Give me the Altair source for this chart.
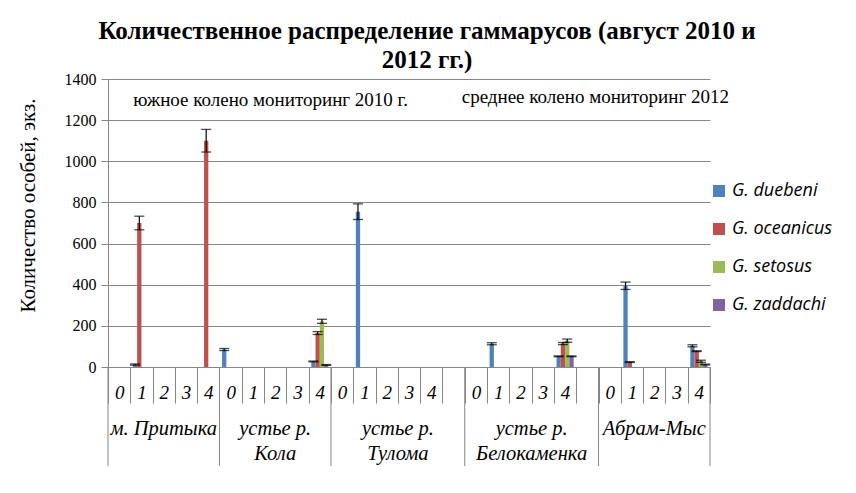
import altair as alt
import pandas as pd

# ---------------- data ----------------
species = ["G. duebeni", "G. oceanicus", "G. setosus", "G. zaddachi"]
colors = ["#4F81BD", "#C0504D", "#9BBB59", "#8064A2"]

sites = ["м. Притыка", "устье р.\nКола", "устье р.\nТулома", "устье р.\nБелокаменка", "Абрам-Мыс"]
sub_labels = [
    ["0", "1", "2", "3", "4"],
    ["0", "1", "2", "3", "4"],
    ["0", "1", "2", "3", "4", ""],
    ["0", "1", "2", "3", "4", ""],
    ["0", "1", "2", "3", "4"],
]

duebeni   = [[0, 12, 0, 0, 0],    [85, 0, 0, 0, 27],  [0, 755, 0, 0, 0, 0], [0, 113, 0, 0, 52, 0],  [0, 395, 0, 0, 103]]
oceanicus = [[0, 700, 0, 0, 1100], [0, 0, 0, 0, 165], [0, 0, 0, 0, 0, 0],   [0, 0, 0, 0, 114, 0],   [0, 24, 0, 0, 77]]
setosus   = [[0, 0, 0, 0, 0],     [0, 0, 0, 0, 222],  [0, 0, 0, 0, 0, 0],   [0, 0, 0, 0, 128, 0],   [0, 0, 0, 0, 28]]
zaddachi  = [[0, 0, 0, 0, 0],     [0, 0, 0, 0, 10],   [0, 0, 0, 0, 0, 0],   [0, 0, 0, 0, 52, 0],    [0, 0, 0, 0, 12]]

duebeni_err   = [[0, 3, 0, 0, 0],   [5, 0, 0, 0, 2],  [0, 38, 0, 0, 0, 0], [0, 5, 0, 0, 2, 0], [0, 18, 0, 0, 5]]
oceanicus_err = [[0, 33, 0, 0, 55], [0, 0, 0, 0, 7],  [0, 0, 0, 0, 0, 0],  [0, 0, 0, 0, 5, 0], [0, 2, 0, 0, 2]]
setosus_err   = [[0, 0, 0, 0, 0],   [0, 0, 0, 0, 10], [0, 0, 0, 0, 0, 0],  [0, 0, 0, 0, 8, 0], [0, 0, 0, 0, 5]]
zaddachi_err  = [[0, 0, 0, 0, 0],   [0, 0, 0, 0, 2],  [0, 0, 0, 0, 0, 0],  [0, 0, 0, 0, 2, 0], [0, 0, 0, 0, 2]]

y_ticks = [0, 200, 400, 600, 800, 1000, 1200, 1400]
title_lines = ["Количественное  распределение гаммарусов (август 2010 и", "2012 гг.)"]
y_title = "Количество особей, экз."
note_south = "южное колено мониторинг 2010 г."
note_middle = "среднее колено мониторинг 2012"

# ---------------- tables ----------------
slot_keys = [f"{i}:{lab}" for i, labs in enumerate(sub_labels) for lab in labs]

vals = [duebeni, oceanicus, setosus, zaddachi]
errs = [duebeni_err, oceanicus_err, setosus_err, zaddachi_err]
rows = []
for s, (v, e) in enumerate(zip(vals, errs)):
    for i, labs in enumerate(sub_labels):
        for j, lab in enumerate(labs):
            rows.append({"slot": f"{i}:{lab}", "species": species[s],
                         "value": v[i][j], "lo": v[i][j] - e[i][j], "hi": v[i][j] + e[i][j]})
df = pd.DataFrame(rows)
err_df = df[df["value"] > 0]

bound_left = pd.DataFrame({"slot": [f"{i}:{labs[0]}" for i, labs in enumerate(sub_labels)]})
bound_right = pd.DataFrame({"slot": [slot_keys[-1]]})

odd_rows, even_rows = [], []
for i, labs in enumerate(sub_labels):
    n = len(labs)
    if n % 2:
        odd_rows.append({"slot": f"{i}:{labs[(n - 1) // 2]}", "site": sites[i]})
    else:
        even_rows.append({"slot": f"{i}:{labs[n // 2 - 1]}", "site": sites[i]})
odd_df = pd.DataFrame(odd_rows)
even_df = pd.DataFrame(even_rows)

notes_a_df = pd.DataFrame([{"slot": f"0:{sub_labels[0][1]}", "y": 1300, "text": note_south}])
notes_b_df = pd.DataFrame([{"slot": f"3:{sub_labels[3][0]}", "y": 1312, "text": note_middle}])

# ---------------- chart ----------------
W, H = 602, 288
GRAY = "#868686"
SERIF = "Liberation Serif"
SANS = "Open Sans"

x_scale = alt.Scale(domain=slot_keys, paddingInner=0, paddingOuter=0)
off_scale = alt.Scale(domain=species, paddingInner=0, paddingOuter=0.6)
y_scale = alt.Scale(domain=[0, 1400], nice=False)

x_axis = alt.Axis(
    title=None, labelExpr="split(datum.value, ':')[1]", labelAngle=0,
    labelFont=SERIF, labelFontSize=19, labelFontStyle="italic", labelColor="black",
    labelBaseline="alphabetic", labelPadding=-5,
    tickBand="extent", tickSize=36, tickColor=GRAY, domainColor=GRAY, grid=False,
)
y_axis = alt.Axis(
    title=y_title, values=y_ticks, format="d", labelFont=SERIF, labelFontSize=16, labelColor="black",
    labelPadding=5, tickSize=7, tickColor=GRAY, domainColor=GRAY, gridColor=GRAY,
    titleFont=SERIF, titleFontSize=21, titleFontWeight="normal", titleColor="black",
    titleX=-80, titleY=126, titleAlign="center", titleBaseline="middle",
)

bars = alt.Chart(df).mark_bar().encode(
    x=alt.X("slot:N", scale=x_scale, sort=slot_keys, axis=x_axis),
    xOffset=alt.XOffset("species:N", scale=off_scale),
    y=alt.Y("value:Q", scale=y_scale, axis=y_axis),
    color=alt.Color("species:N", scale=alt.Scale(domain=species, range=colors),
                    legend=alt.Legend(title=None, orient="none", legendX=602, legendY=103,
                                      symbolType="square", symbolSize=144, symbolStrokeWidth=0,
                                      labelFont=SANS, labelFontSize=18, labelFontStyle="italic",
                                      labelColor="black", rowPadding=20, labelOffset=4, padding=0,
                                      labelLimit=200)),
)

err_rule = alt.Chart(err_df).mark_rule(color="black", strokeWidth=1.2).encode(
    x=alt.X("slot:N"), xOffset=alt.XOffset("species:N"),
    y=alt.Y("lo:Q"), y2="hi:Q",
)
cap_lo = alt.Chart(err_df).mark_tick(color="black", thickness=1.3, size=10).encode(
    x=alt.X("slot:N"), xOffset=alt.XOffset("species:N"), y=alt.Y("lo:Q"),
)
cap_hi = alt.Chart(err_df).mark_tick(color="black", thickness=1.3, size=10).encode(
    x=alt.X("slot:N"), xOffset=alt.XOffset("species:N"), y=alt.Y("hi:Q"),
)

sep_left = alt.Chart(bound_left).mark_rule(color=GRAY, strokeWidth=1).encode(
    x=alt.X("slot:N", bandPosition=0), y=alt.value(H), y2=alt.value(H + 99),
)
sep_right = alt.Chart(bound_right).mark_rule(color=GRAY, strokeWidth=1).encode(
    x=alt.X("slot:N", bandPosition=1), y=alt.value(H), y2=alt.value(H + 99),
)

grp_style = dict(font=SERIF, fontSize=20.5, fontStyle="italic", color="black",
                 lineBreak="\n", lineHeight=25, baseline="alphabetic", align="center")
grp_odd = alt.Chart(odd_df).mark_text(**grp_style).encode(
    x=alt.X("slot:N", bandPosition=0.5), y=alt.value(H + 68), text="site:N",
)
grp_even = alt.Chart(even_df).mark_text(**grp_style).encode(
    x=alt.X("slot:N", bandPosition=1), y=alt.value(H + 68), text="site:N",
)

note_style = dict(font=SERIF, fontSize=19, color="black", align="left", baseline="middle")
notes_a = alt.Chart(notes_a_df).mark_text(dx=3, **note_style).encode(
    x=alt.X("slot:N", bandPosition=0), y=alt.Y("y:Q"), text="text:N",
)
notes_b = alt.Chart(notes_b_df).mark_text(dx=-3, **note_style).encode(
    x=alt.X("slot:N", bandPosition=0), y=alt.Y("y:Q"), text="text:N",
)

chart = alt.layer(
    bars, err_rule, cap_lo, cap_hi, sep_left, sep_right, grp_odd, grp_even, notes_a, notes_b
).properties(
    width=W, height=H,
    title=alt.Title(text=title_lines, font=SERIF, fontSize=25, fontWeight="bold", color="black",
                    anchor="middle", frame="group", dx=18, dy=10, offset=8, lineHeight=29),
    autosize=alt.AutoSizeParams(type="none"),
    padding={"left": 100, "top": 71, "right": 138, "bottom": 118},
).configure(background="white", font=SERIF).configure_view(stroke=None)

chart.save("out.html", embed_options={"renderer": "svg", "actions": False})
